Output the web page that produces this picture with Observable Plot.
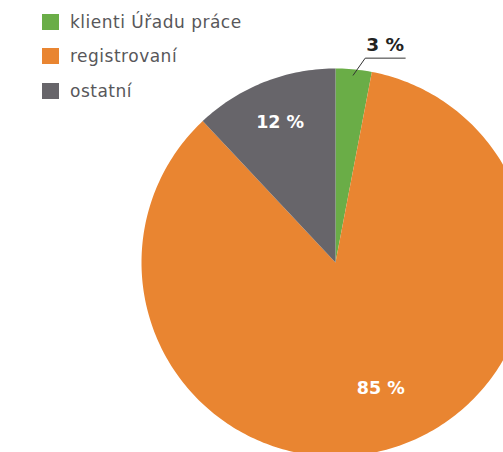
<!DOCTYPE html>
<html><head><meta charset="utf-8">
<script src="https://cdn.jsdelivr.net/npm/d3@7"></script>
<script src="https://cdn.jsdelivr.net/npm/@observablehq/plot@0.6"></script>
<style>
body{margin:0;background:#fff;}
#wrap{position:relative;width:503px;height:452px;overflow:hidden;font-family:"DejaVu Sans", sans-serif;}
#legend{position:absolute;left:42px;top:13px;}
.row{display:flex;align-items:center;height:17px;margin-bottom:17.5px;font-size:17px;letter-spacing:0.5px;color:#58575a;}
.sw{width:17px;height:16px;margin-right:11px;}
</style></head>
<body><div id="wrap"><div id="legend"></div></div>
<script>
const categories = ["klienti Úřadu práce", "registrovaní", "ostatní"];
const shares = [3, 85, 12];
const labels = ["3 %", "85 %", "12 %"];
const colors = ["#6aad47", "#e98531", "#67656a"];

// geometry (pixels)
const W = 503, H = 452, R = 194, CX = 335, CY = 262;

const total = d3.sum(shares);
let acc = 0;
const slices = shares.map((v, i) => {
  const a0 = acc / total; acc += v; const a1 = acc / total;
  return {i, a0, a1, mid: (a0 + a1) / 2};
});
const pt = (t, r) => ({x: r * Math.sin(2 * Math.PI * t), y: r * Math.cos(2 * Math.PI * t)});

const polys = [];
for (const s of slices) {
  const n = Math.max(4, Math.ceil((s.a1 - s.a0) * 360));
  polys.push({cat: categories[s.i], x: 0, y: 0});
  for (let k = 0; k <= n; k++) {
    const p = pt(s.a0 + (s.a1 - s.a0) * k / n, 1);
    polys.push({cat: categories[s.i], ...p});
  }
  polys.push({cat: categories[s.i], x: 0, y: 0});
}

// inner labels
const inner = slices.filter(s => s.i !== 0).map(s => {
  const r = s.i === 2 ? 0.775 : 0.69;
  const off = s.i === 2 ? 0 : -0.01;
  return {...pt(s.mid + off, r), text: labels[s.i]};
});
// leader for small slice
const g = slices[0];
const p0 = pt(g.mid, 0.97);
const leader = [p0, {x: p0.x + 12 / R, y: p0.y + 17 / R}, {x: p0.x + 52 / R, y: p0.y + 17 / R}];
const outer = [{x: p0.x + 32 / R, y: p0.y + 30 / R, text: labels[0]}];

const chart = Plot.plot({
  width: W, height: H,
  margin: 0,
  x: {domain: [-CX / R, (W - CX) / R], axis: null},
  y: {domain: [-(H - CY) / R, CY / R], axis: null},
  color: {domain: categories, range: colors},
  marks: [
    ...categories.map(c => Plot.line(polys.filter(d => d.cat === c), {x: "x", y: "y", fill: colors[categories.indexOf(c)], stroke: "none", curve: "linear"})),
    Plot.text(inner, {x: "x", y: "y", text: "text", fill: "#fff", fontSize: 17.5, fontWeight: "bold", fontFamily: "DejaVu Sans, sans-serif"}),
    Plot.line(leader, {x: "x", y: "y", stroke: "#333", strokeWidth: 1}),
    Plot.text(outer, {x: "x", y: "y", text: "text", fill: "#222", fontSize: 18.5, fontWeight: "bold", fontFamily: "DejaVu Sans, sans-serif"})
  ]
});
document.getElementById("wrap").prepend(chart);

const leg = document.getElementById("legend");
categories.forEach((c, i) => {
  const row = document.createElement("div"); row.className = "row";
  const sw = document.createElement("div"); sw.className = "sw"; sw.style.background = colors[i];
  const t = document.createElement("span"); t.textContent = c;
  row.append(sw, t); leg.append(row);
});
</script></body></html>
